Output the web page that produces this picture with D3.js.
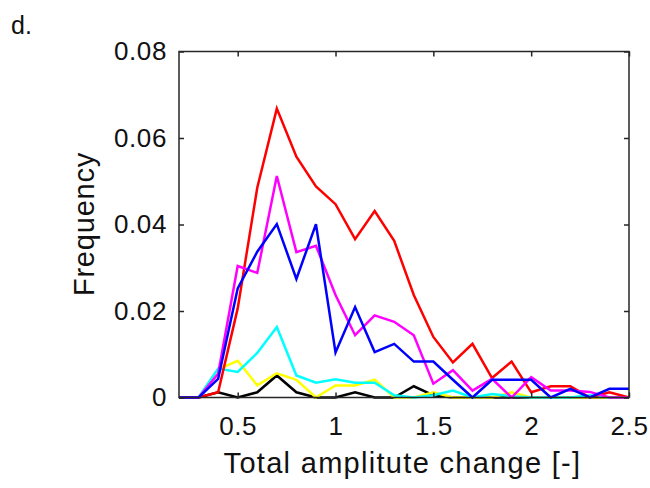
<!DOCTYPE html>
<html>
<head>
<meta charset="utf-8">
<script src="https://cdn.jsdelivr.net/npm/d3@7"></script>
<style>
  html, body { margin: 0; padding: 0; background: #fff; }
  svg { display: block; font-family: "Liberation Sans", Arial, Helvetica, sans-serif; }
</style>
</head>
<body>
<svg id="chart" width="650" height="488"></svg>
<script>
// Bin centres of the amplitude-change histogram
const binCentres = [0.2, 0.3, 0.4, 0.5, 0.6, 0.7, 0.8, 0.9, 1.0, 1.1, 1.2, 1.3,
                    1.4, 1.5, 1.6, 1.7, 1.8, 1.9, 2.0, 2.1, 2.2, 2.3, 2.4, 2.5];

// Frequency per bin, one array per group
const redFreq     = [0, 0, 0.0012, 0.0206, 0.0485, 0.0668, 0.0557, 0.0488, 0.0447, 0.0366, 0.0431, 0.0362,
                     0.0237, 0.0140, 0.0081, 0.0124, 0.0045, 0.0083, 0.0012, 0.0026, 0.0026, 0, 0.0012, 0];
const magentaFreq = [0, 0, 0.0055, 0.0304, 0.0288, 0.0512, 0.0336, 0.0351, 0.0237, 0.0144, 0.0190, 0.0175,
                     0.0144, 0.0032, 0.0063, 0.0016, 0.0043, 0, 0.0047, 0.0016, 0.0016, 0.0013, 0, 0];
const blueFreq    = [0, 0, 0.0043, 0.0252, 0.0337, 0.0401, 0.0274, 0.0401, 0.0104, 0.0209, 0.0105, 0.0124,
                     0.0083, 0.0083, 0.0041, 0, 0.0041, 0.0041, 0.0041, 0, 0.0020, 0, 0.0020, 0.0020];
const cyanFreq    = [0, 0, 0.0067, 0.0059, 0.0103, 0.0163, 0.0051, 0.0034, 0.0042, 0.0034, 0.0034, 0.0005,
                     0, 0.0005, 0.0016, 0, 0.0008, 0.0003, 0, 0, 0, 0.0005, 0, 0];
const yellowFreq  = [0, 0, 0.0065, 0.0085, 0.0028, 0.0056, 0.0041, 0, 0.0028, 0.0028, 0.0041, 0,
                     0, 0.0012, 0, 0, 0, 0.0012, 0, 0, 0, 0, 0, 0];
const blackFreq   = [0, 0, 0.0012, 0, 0.0012, 0.0051, 0.0012, 0, 0, 0.0012, 0, 0,
                     0.0026, 0.0005, 0, 0, 0, 0, 0, 0, 0, 0, 0, 0];

const xTicks = [0.5, 1, 1.5, 2, 2.5];
const xTickLabels = ["0.5", "1", "1.5", "2", "2.5"];
const yTicks = [0, 0.02, 0.04, 0.06, 0.08];
const yTickLabels = ["0", "0.02", "0.04", "0.06", "0.08"];

// Series in drawing order (later ones sit on top)
const series = [
  { values: blackFreq,   color: "#000000" },
  { values: yellowFreq,  color: "#ffff00" },
  { values: cyanFreq,    color: "#00ffff" },
  { values: redFreq,     color: "#ff0000" },
  { values: magentaFreq, color: "#ff00ff" },
  { values: blueFreq,    color: "#0000ff" }
];

const svg = d3.select("#chart");
const plotLeft = 179, plotRight = 629, plotTop = 51.5, plotBottom = 397.5;
const axisColor = "#262626";
const textColor = "#111";

const x = d3.scaleLinear().domain([0.2, 2.5]).range([plotLeft, plotRight]);
const y = d3.scaleLinear().domain([0, 0.08]).range([plotBottom, plotTop]);

// Lines
const line = d3.line()
  .x((d, i) => x(binCentres[i]))
  .y(d => y(d));

svg.append("g")
  .selectAll("path")
  .data(series)
  .join("path")
  .attr("d", s => line(s.values))
  .attr("fill", "none")
  .attr("stroke", s => s.color)
  .attr("stroke-width", 2.5)
  .attr("stroke-linejoin", "miter")
  .attr("stroke-linecap", "butt");

// Axes with inward ticks on all four sides
function styleAxis(g, showLabels) {
  g.select(".domain").remove();
  g.selectAll(".tick line").attr("stroke", axisColor).attr("stroke-width", 1.5);
  g.selectAll(".tick text")
    .attr("fill", textColor)
    .style("font-size", "26px")
    .style("letter-spacing", "0.6px");
  if (!showLabels) g.selectAll(".tick text").remove();
}

const xFmt = (d) => xTickLabels[xTicks.indexOf(d)];
const yFmt = (d) => yTickLabels[yTicks.indexOf(d)];

svg.append("g")
  .attr("transform", `translate(0,${plotBottom})`)
  .call(d3.axisBottom(x).tickValues(xTicks).tickFormat(xFmt).tickSizeInner(-5).tickSizeOuter(0).tickPadding(19.5))
  .call(g => styleAxis(g, true));

svg.append("g")
  .attr("transform", `translate(0,${plotTop})`)
  .call(d3.axisTop(x).tickValues(xTicks).tickSizeInner(-5).tickSizeOuter(0))
  .call(g => styleAxis(g, false));

svg.append("g")
  .attr("transform", `translate(${plotLeft},0)`)
  .call(d3.axisLeft(y).tickValues(yTicks).tickFormat(yFmt).tickSizeInner(-5).tickSizeOuter(0).tickPadding(12))
  .call(g => styleAxis(g, true));

svg.append("g")
  .attr("transform", `translate(${plotRight},0)`)
  .call(d3.axisRight(y).tickValues(yTicks).tickSizeInner(-5).tickSizeOuter(0))
  .call(g => styleAxis(g, false));

// Axes box
svg.append("rect")
  .attr("x", plotLeft).attr("y", plotTop)
  .attr("width", plotRight - plotLeft).attr("height", plotBottom - plotTop)
  .attr("fill", "none")
  .attr("stroke", axisColor)
  .attr("stroke-width", 1.5);

// Axis titles
svg.append("text")
  .attr("x", (225 + 580) / 2).attr("y", 473)
  .attr("text-anchor", "middle")
  .attr("fill", textColor)
  .style("font-size", "29px")
  .style("letter-spacing", "1.3px")
  .text("Total amplitute change [-]");

svg.append("text")
  .attr("transform", "translate(94,224) rotate(-90)")
  .attr("text-anchor", "middle")
  .attr("fill", textColor)
  .style("font-size", "29px")
  .style("letter-spacing", "0.8px")
  .text("Frequency");

// Panel letter
svg.append("text")
  .attr("x", 11).attr("y", 34)
  .attr("fill", textColor)
  .style("font-size", "25px")
  .text("d.");
</script>
</body>
</html>
